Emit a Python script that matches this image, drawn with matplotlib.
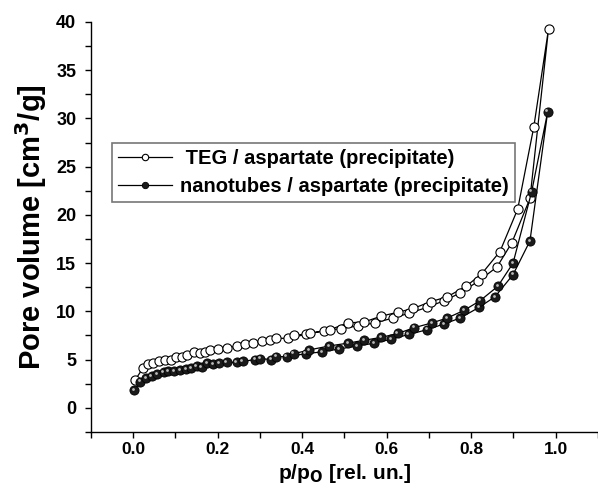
import matplotlib
matplotlib.use("Agg")
import matplotlib.pyplot as plt
import matplotlib.transforms as mtransforms
from matplotlib.ticker import MultipleLocator
import numpy as np

plt.rcParams['font.family'] = ['Liberation Sans', 'DejaVu Sans']
plt.rcParams['font.weight'] = 'bold'

# TEG / aspartate: adsorption (lower) branch then desorption (upper) branch
teg_x = [0.005, 0.023, 0.036, 0.048, 0.062, 0.075, 0.089, 0.101, 0.115, 0.128, 0.144, 0.158,
         0.170, 0.183, 0.201, 0.221, 0.245, 0.264, 0.284, 0.304, 0.323, 0.339, 0.366, 0.408,
         0.451, 0.492, 0.533, 0.573, 0.614, 0.653, 0.695, 0.736, 0.774, 0.816, 0.861, 0.896,
         0.939, 0.983,
         0.948, 0.910, 0.868, 0.825, 0.788, 0.743, 0.704, 0.663, 0.626, 0.587, 0.547, 0.508,
         0.466, 0.419, 0.380]
teg_y = [2.9, 4.1, 4.5, 4.6, 4.8, 5.0, 5.0, 5.3, 5.3, 5.5, 5.8, 5.7,
         5.8, 6.0, 6.1, 6.2, 6.4, 6.6, 6.7, 6.9, 7.0, 7.2, 7.2, 7.6,
         8.0, 8.2, 8.5, 8.8, 9.3, 9.8, 10.4, 11.1, 11.9, 13.1, 14.6, 17.1,
         21.7, 39.3,
         29.1, 20.6, 16.2, 13.9, 12.6, 11.5, 11.0, 10.3, 9.9, 9.5, 8.9, 8.8,
         8.1, 7.7, 7.5]

# nanotubes / aspartate
nt_x = [0.003, 0.017, 0.031, 0.044, 0.057, 0.072, 0.083, 0.097, 0.111, 0.125, 0.138, 0.150,
        0.162, 0.175, 0.189, 0.204, 0.221, 0.245, 0.259, 0.288, 0.300, 0.327, 0.339, 0.363,
        0.408, 0.447, 0.488, 0.530, 0.571, 0.610, 0.652, 0.696, 0.736, 0.774, 0.818, 0.856,
        0.899, 0.939, 0.981,
        0.943, 0.899, 0.863, 0.821, 0.783, 0.743, 0.707, 0.665, 0.626, 0.587, 0.547, 0.508,
        0.463, 0.417, 0.380]
nt_y = [1.8, 2.7, 3.1, 3.3, 3.5, 3.7, 3.8, 3.8, 3.9, 4.0, 4.1, 4.3,
        4.2, 4.6, 4.5, 4.6, 4.7, 4.7, 4.8, 5.0, 5.1, 5.0, 5.3, 5.3,
        5.6, 5.8, 6.1, 6.4, 6.7, 7.1, 7.6, 8.1, 8.7, 9.3, 10.4, 11.5,
        13.8, 17.3, 30.7,
        22.4, 15.0, 12.6, 11.1, 10.1, 9.3, 8.8, 8.3, 7.7, 7.3, 7.0, 6.7,
        6.4, 6.0, 5.6]

labels = [' TEG / aspartate (precipitate)', 'nanotubes / aspartate (precipitate)']
x_ticks = [0.0, 0.2, 0.4, 0.6, 0.8, 1.0]
y_ticks = [0, 5, 10, 15, 20, 25, 30, 35, 40]

fig = plt.figure(figsize=(5.98, 4.88), dpi=100)
ax = fig.add_axes([0.152, 0.115, 0.848, 0.84])

l1, = ax.plot(teg_x, teg_y, '-', color='black', lw=0.9, marker='o', ms=6.6,
              mfc='white', mec='black', mew=0.8, label=labels[0])
l2, = ax.plot(nt_x, nt_y, '-', color='black', lw=0.9, marker='o', ms=6.6,
              mfc='#1a1a1a', mec='black', mew=0.6, label=labels[1])
# highlight on the spheres
off = mtransforms.ScaledTranslation(-1.3 / 100, 1.3 / 100, fig.dpi_scale_trans)
ax.plot(nt_x, nt_y, linestyle='none', marker='o', ms=2.0, mfc='#bbbbbb', mec='none',
        transform=ax.transData + off)

ax.set_xlim(-0.1, 1.1)
ax.set_ylim(-2.5, 40)
ax.set_xticks(x_ticks)
ax.set_xticklabels([f'{v:.1f}' for v in x_ticks])
ax.set_yticks(y_ticks)
ax.xaxis.set_minor_locator(MultipleLocator(0.1))
ax.yaxis.set_minor_locator(MultipleLocator(2.5))
ax.tick_params(which='both', direction='out', length=4.5, width=1)
ax.tick_params(axis='y', labelsize=13, pad=6)
ax.tick_params(axis='x', labelsize=12.5, pad=3)
for lab in ax.get_xticklabels() + ax.get_yticklabels():
    lab.set_fontweight('bold')

ax.spines['top'].set_visible(False)
ax.spines['right'].set_visible(False)
ax.spines['left'].set_linewidth(1)
ax.spines['bottom'].set_linewidth(1)

ax.set_ylabel('Pore volume [cm$^\\mathbf{3}$/g]', fontsize=21, fontweight='bold', labelpad=5)
ax.set_xlabel('p/p$_\\mathbf{O}$ [rel. un.]', fontsize=15, fontweight='bold')
ax.xaxis.set_label_coords(0.5, -0.0735)

leg = ax.legend(handles=[l1, l2], loc='upper left', bbox_to_anchor=(0.041, 0.705),
                frameon=True, fancybox=False, edgecolor='#555555', fontsize=14.5,
                handlelength=2.7, handletextpad=0.4, borderpad=0.3, labelspacing=0.45,
                borderaxespad=0, markerscale=0.7)
leg.get_frame().set_linewidth(1.2)
for t in leg.get_texts():
    t.set_fontweight('bold')

fig.savefig('out.png', dpi=100)
